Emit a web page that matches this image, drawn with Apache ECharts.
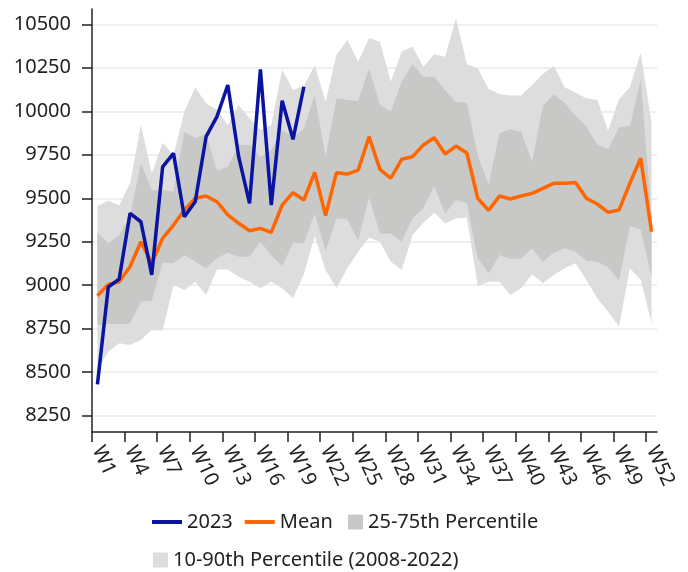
<!DOCTYPE html>
<html><head><meta charset="utf-8">
<script src="https://cdn.jsdelivr.net/npm/echarts@6/dist/echarts.min.js"></script>
<style>html,body{margin:0;padding:0;background:#fff}#c{width:688px;height:572px}</style>
</head><body><div id="c"></div>
<script>
const weeks = ['W1','W2','W3','W4','W5','W6','W7','W8','W9','W10','W11','W12','W13','W14','W15','W16','W17','W18','W19','W20','W21','W22','W23','W24','W25','W26','W27','W28','W29','W30','W31','W32','W33','W34','W35','W36','W37','W38','W39','W40','W41','W42','W43','W44','W45','W46','W47','W48','W49','W50','W51','W52'];
const y2023 = [8430, 8990, 9035, 9413, 9365, 9060, 9680, 9758, 9394, 9480, 9854, 9969, 10151, 9739, 9471, 10241, 9461, 10061, 9839, 10141];
const mean = [8940, 9005, 9020, 9106, 9250, 9126, 9270, 9346, 9432, 9500, 9513, 9480, 9404, 9356, 9313, 9327, 9304, 9461, 9532, 9490, 9649, 9400, 9647, 9639, 9662, 9854, 9666, 9615, 9724, 9739, 9806, 9848, 9754, 9800, 9760, 9500, 9430, 9513, 9496, 9513, 9528, 9557, 9586, 9586, 9590, 9500, 9467, 9419, 9432, 9586, 9730, 9308];
const p90 = [9455, 9486, 9460, 9586, 9921, 9643, 9819, 9749, 9998, 10136, 10046, 10007, 9921, 10036, 9960, 9892, 9921, 10240, 10122, 10145, 10266, 10055, 10323, 10410, 10285, 10420, 10400, 10170, 10343, 10371, 10256, 10328, 10314, 10535, 10270, 10247, 10128, 10099, 10090, 10090, 10151, 10214, 10262, 10138, 10107, 10075, 10065, 9888, 10069, 10138, 10337, 9931];
const p75 = [9302, 9241, 9289, 9400, 9701, 9547, 9547, 9540, 9883, 9845, 9870, 9658, 9681, 9806, 9806, 9739, 9777, 9892, 9850, 9900, 10093, 9739, 10075, 10065, 10060, 10247, 10036, 9998, 10170, 10272, 10199, 10199, 10122, 10052, 10050, 9749, 9576, 9873, 9896, 9883, 9710, 10030, 10098, 10049, 9973, 9911, 9810, 9781, 9908, 9915, 10184, 9400];
const p25 = [8771, 8777, 8777, 8780, 8905, 8911, 9129, 9126, 9174, 9135, 9097, 9155, 9187, 9164, 9164, 9250, 9174, 9110, 9244, 9241, 9413, 9197, 9385, 9379, 9256, 9505, 9298, 9298, 9250, 9385, 9442, 9570, 9413, 9490, 9471, 9155, 9069, 9174, 9151, 9155, 9212, 9135, 9187, 9212, 9193, 9141, 9135, 9103, 9026, 9340, 9321, 9049];
const p10 = [8513, 8618, 8666, 8656, 8685, 8743, 8738, 9001, 8973, 9020, 8944, 9091, 9091, 9049, 9020, 8982, 9020, 8982, 8925, 9064, 9283, 9087, 8982, 9097, 9193, 9275, 9250, 9135, 9087, 9289, 9359, 9417, 9356, 9383, 9389, 8995, 9020, 9020, 8944, 8982, 9063, 9011, 9059, 9097, 9126, 9030, 8925, 8848, 8762, 9097, 9030, 8781];
const yTicks = [8250, 8500, 8750, 9000, 9250, 9500, 9750, 10000, 10250, 10500];

const FONT = 'Noto Sans';
const TXT = '#222';
const AX = '#222';
const BLUE = '#0a14a0', ORANGE = '#ff6600', DARK = '#c8c9c7', LIGHT = '#dddddd';
const tickPos = [], labelPos = [];
for (let i = 0; i < weeks.length; i += 3) { tickPos.push(i); labelPos.push(i + 0.5); }

const chart = echarts.init(document.getElementById('c'), null, {renderer: 'canvas'});
const common = {xAxisIndex: 1, yAxisIndex: 1, type: 'line', symbol: 'none', showSymbol: false, clip: false, silent: true};
const legendText = {fontSize: 20, color: TXT, fontFamily: FONT};
chart.setOption({
  animation: false,
  textStyle: {fontFamily: FONT},
  grid: [
    {left: 92, right: 31, top: 9, bottom: 140},
    {left: 92, right: 31, top: 24.3, bottom: 156.3}
  ],
  xAxis: [
    {gridIndex: 0, type: 'value', min: 0, max: weeks.length,
     axisLine: {show: true, onZero: false, lineStyle: {color: AX, width: 1.5}},
     axisTick: {show: true, length: 10, customValues: tickPos, lineStyle: {color: AX, width: 1.5}},
     axisLabel: {customValues: labelPos, rotate: -65, margin: 15, fontSize: 20, color: TXT, fontFamily: FONT,
       formatter: v => weeks[Math.round(v - 0.5)]},
     splitLine: {show: false}},
    {gridIndex: 1, type: 'category', data: weeks, boundaryGap: true, show: false}
  ],
  yAxis: [
    {gridIndex: 0, type: 'value', min: 8156, max: 10588,
     axisLine: {show: true, lineStyle: {color: AX, width: 1.5}},
     axisTick: {show: false}, axisLabel: {show: false}, splitLine: {show: false}},
    {gridIndex: 1, type: 'value', min: yTicks[0], max: yTicks[yTicks.length - 1], interval: 250,
     axisLine: {show: false},
     axisTick: {show: true, length: 10, lineStyle: {color: AX, width: 1.5}},
     axisLabel: {margin: 21, fontSize: 20, color: TXT, fontFamily: FONT, formatter: v => String(v)},
     splitLine: {show: true, lineStyle: {color: '#efefef', width: 2}}}
  ],
  legend: [
    {data: [{name: '2023', icon: 'rect', itemStyle: {color: BLUE}}, {name: 'Mean', icon: 'rect', itemStyle: {color: ORANGE}}],
     left: 147, top: 507, itemWidth: 30, itemHeight: 4, itemGap: 12,
     textStyle: legendText, selectedMode: false},
    {data: [{name: '25-75th Percentile', icon: 'rect', itemStyle: {color: DARK}}], left: 343, top: 507,
     itemWidth: 15, itemHeight: 15, textStyle: legendText, selectedMode: false},
    {data: [{name: '10-90th Percentile (2008-2022)', icon: 'rect', itemStyle: {color: LIGHT}}], left: 148, top: 545,
     itemWidth: 15, itemHeight: 15, textStyle: legendText, selectedMode: false}
  ],
  series: [
    Object.assign({}, common, {name: 'p10base', stack: 'outer', data: p10, lineStyle: {width: 0}}),
    Object.assign({}, common, {name: '10-90th Percentile (2008-2022)', stack: 'outer', color: LIGHT,
      data: p90.map((v, i) => v - p10[i]), lineStyle: {width: 0}, areaStyle: {color: LIGHT, opacity: 1}}),
    Object.assign({}, common, {name: 'p25base', stack: 'inner', data: p25, lineStyle: {width: 0}}),
    Object.assign({}, common, {name: '25-75th Percentile', stack: 'inner', color: DARK,
      data: p75.map((v, i) => v - p25[i]), lineStyle: {width: 0}, areaStyle: {color: DARK, opacity: 1}}),
    Object.assign({}, common, {name: 'Mean', color: ORANGE, data: mean, lineStyle: {width: 3.5, color: ORANGE}}),
    Object.assign({}, common, {name: '2023', color: BLUE, data: y2023, lineStyle: {width: 3.5, color: BLUE}})
  ]
});
</script></body></html>
